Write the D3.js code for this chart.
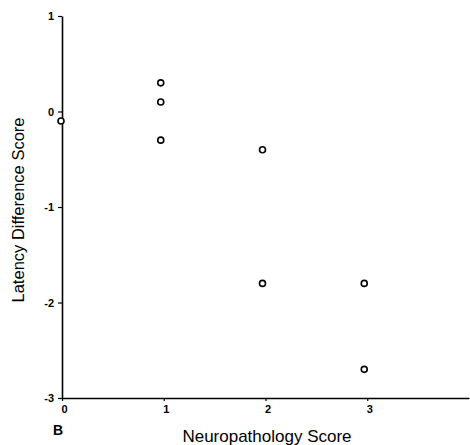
<!DOCTYPE html>
<html><head><meta charset="utf-8">
<script src="https://cdn.jsdelivr.net/npm/d3@7"></script>
<style>body{margin:0;background:#fff}svg{display:block}</style>
</head><body>
<script>
const xScore = [0, 1, 1, 1, 2, 2, 3, 3];
const yLatency = [-0.1, 0.3, 0.1, -0.3, -0.4, -1.8, -1.8, -2.7];
const xTicks = [0, 1, 2, 3];
const yTicks = [1, 0, -1, -2, -3];
const xTitle = "Neuropathology Score";
const yTitle = "Latency Difference Score";
const panelLabel = "B";

const W = 470, H = 445;
const svg = d3.select("body").append("svg").attr("width", W).attr("height", H);
const x = d3.scaleLinear().domain([0, 4]).range([62, 469]);
const y = d3.scaleLinear().domain([-3, 1]).range([398, 16]);
const font = "Liberation Sans, Arial, Helvetica, sans-serif";

const gx = svg.append("g").attr("transform", `translate(0,${y(-3)})`)
  .call(d3.axisBottom(x).tickValues(xTicks).tickSize(3).tickSizeOuter(0).tickFormat(d3.format("d")));
const gy = svg.append("g").attr("transform", `translate(${x(0)},0)`)
  .call(d3.axisLeft(y).tickValues(yTicks).tickSize(4).tickSizeOuter(0).tickFormat(d => d));
[gx, gy].forEach(g => {
  g.select(".domain").attr("stroke", "#000").attr("stroke-width", 1.6);
  g.selectAll(".tick line").attr("stroke", "#000").attr("stroke-width", 1.2);
  g.selectAll("text").attr("font-family", font).attr("font-size", 11).attr("font-weight", "bold").attr("fill", "#000");
});
gx.selectAll("text").attr("dy", "0.85em").attr("dx", 2);
gy.selectAll("text").attr("x", -8);

svg.append("g").selectAll("circle").data(xScore).join("circle")
  .attr("cx", (d, i) => x(d) - (d === 0 ? 1 : 3))
  .attr("cy", (d, i) => y(yLatency[i]))
  .attr("r", 3).attr("fill", "#fff").attr("stroke", "#000").attr("stroke-width", 1.6);

svg.append("text").attr("x", 267).attr("y", 442).attr("text-anchor", "middle")
  .attr("font-family", font).attr("font-size", 17).text(xTitle);
svg.append("text").attr("transform", "translate(24,210) rotate(-90)").attr("text-anchor", "middle")
  .attr("font-family", font).attr("font-size", 16.5).text(yTitle);
svg.append("text").attr("x", 53).attr("y", 435)
  .attr("font-family", font).attr("font-size", 14).attr("font-weight", "bold").text(panelLabel);
</script>
</body></html>
